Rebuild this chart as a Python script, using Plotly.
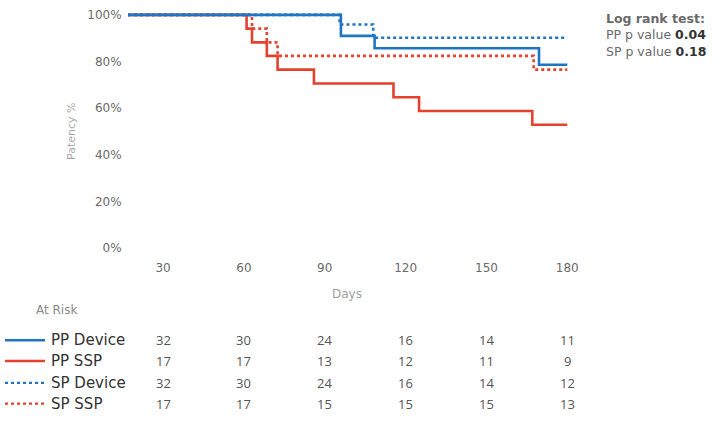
import plotly.graph_objects as go

# ---- data ----
pp_device_days = [17, 96, 108.5, 169.5, 180]
pp_device_surv = [100, 91.0, 85.7, 78.6, 78.6]

pp_ssp_days = [17, 61, 63, 68.5, 72.5, 86, 115.5, 125, 167, 180]
pp_ssp_surv = [100, 94.1, 88.2, 82.4, 76.5, 70.6, 64.7, 58.8, 52.9, 52.9]

sp_device_days = [17, 95.5, 108, 180]
sp_device_surv = [100, 95.9, 90.2, 90.2]

sp_ssp_days = [17, 63, 68.5, 72.5, 167.5, 180]
sp_ssp_surv = [100, 94.1, 88.2, 82.4, 76.5, 76.5]

tick_days = [30, 60, 90, 120, 150, 180]
y_ticks = [0, 20, 40, 60, 80, 100]

series_names = ["PP Device", "PP SSP", "SP Device", "SP SSP"]
at_risk_pp_device = [32, 30, 24, 16, 14, 11]
at_risk_pp_ssp = [17, 17, 13, 12, 11, 9]
at_risk_sp_device = [32, 30, 24, 16, 14, 12]
at_risk_sp_ssp = [17, 17, 15, 15, 15, 13]

pp_p_value = "0.04"
sp_p_value = "0.18"

# ---- styling ----
BLUE = "#1f74c4"
RED = "#e5412f"
FONT = "DejaVu Sans, Verdana, sans-serif"
W, H = 718, 424
M_L, M_R, M_T, M_B = 128, 148, 8, 176
PLOT_H = H - M_T - M_B


def py(ypx):
    """pixel y (from top) -> paper y"""
    return (H - M_B - ypx) / PLOT_H


def px(xpx):
    return (xpx - M_L) / (W - M_L - M_R)


fig = go.Figure()

traces = [
    (pp_ssp_days, pp_ssp_surv, RED, "solid", series_names[1]),
    (sp_ssp_days, sp_ssp_surv, RED, "dot", series_names[3]),
    (pp_device_days, pp_device_surv, BLUE, "solid", series_names[0]),
    (sp_device_days, sp_device_surv, BLUE, "dot", series_names[2]),
]
for xs, ys, col, dash, name in traces:
    fig.add_trace(go.Scatter(
        x=xs, y=ys, mode="lines", name=name,
        line=dict(color=col, width=2.6, dash=dash, shape="hv"),
        showlegend=False,
    ))

fig.update_layout(
    width=W, height=H,
    margin=dict(l=M_L, r=M_R, t=M_T, b=M_B, pad=0),
    paper_bgcolor="white", plot_bgcolor="white",
    font=dict(family=FONT, color="#666"),
    xaxis=dict(
        range=[17, 181], tickvals=tick_days, ticktext=[str(t) for t in tick_days],
        showgrid=False, zeroline=False, showline=False,
        ticks="outside", ticklen=9, tickcolor="rgba(0,0,0,0)",
        tickfont=dict(size=12, color="#6a6a6a", family=FONT),
    ),
    yaxis=dict(
        range=[0, 102.1], tickvals=y_ticks, ticktext=[f"{v}%" for v in y_ticks],
        showgrid=False, zeroline=False, showline=False,
        ticks="outside", ticklen=3, tickcolor="rgba(0,0,0,0)",
        tickfont=dict(size=12, color="#6a6a6a", family=FONT),
    ),
)

ann = []
# axis titles
ann.append(dict(text="Patency %", xref="paper", yref="paper", x=px(72), y=py(131),
                textangle=-90, showarrow=False, font=dict(size=11, color="#a8a8a8"),
                xanchor="center", yanchor="middle"))
ann.append(dict(text="Days", xref="paper", yref="paper", x=px(347), y=py(294),
                showarrow=False, font=dict(size=12, color="#a0a0a0"),
                xanchor="center", yanchor="middle"))
# log rank text
ann.append(dict(
    text=("<b>Log rank test:</b><br>PP p value <b style='color:#333'>" + pp_p_value +
          "</b><br>SP p value <b style='color:#333'>" + sp_p_value + "</b>"),
    xref="paper", yref="paper", x=px(604), y=py(7), xanchor="left", yanchor="top",
    align="left", showarrow=False, font=dict(size=12.5, color="#6a6a6a")))

# at risk table
ann.append(dict(text="At Risk", xref="paper", yref="paper", x=px(34), y=py(311),
                xanchor="left", yanchor="middle", showarrow=False,
                font=dict(size=12, color="#8a8a8a")))
rows = [
    (series_names[0], at_risk_pp_device, BLUE, "solid", 341),
    (series_names[1], at_risk_pp_ssp, RED, "solid", 362),
    (series_names[2], at_risk_sp_device, BLUE, "dot", 384),
    (series_names[3], at_risk_sp_ssp, RED, "dot", 405),
]
shapes = []
for name, vals, col, dash, ypix in rows:
    shapes.append(dict(type="line", xref="paper", yref="paper",
                       x0=px(5), x1=px(45), y0=py(ypix), y1=py(ypix),
                       line=dict(color=col, width=2.6 if dash == "solid" else 2.2, dash=dash)))
    ann.append(dict(text=name, xref="paper", yref="paper", x=px(49), y=py(ypix),
                    xanchor="left", yanchor="middle", showarrow=False,
                    font=dict(size=15, color="#333")))
    for d, v in zip(tick_days, vals):
        ann.append(dict(text=str(v), xref="x", yref="paper", x=d, y=py(ypix),
                        xanchor="center", yanchor="middle", showarrow=False,
                        font=dict(size=13, color="#555", family="Open Sans, sans-serif")))

fig.update_layout(annotations=ann, shapes=shapes)
fig.write_html("out.html", config={"displayModeBar": False},
               post_script="document.body.style.margin='0';document.body.style.padding='0';")
